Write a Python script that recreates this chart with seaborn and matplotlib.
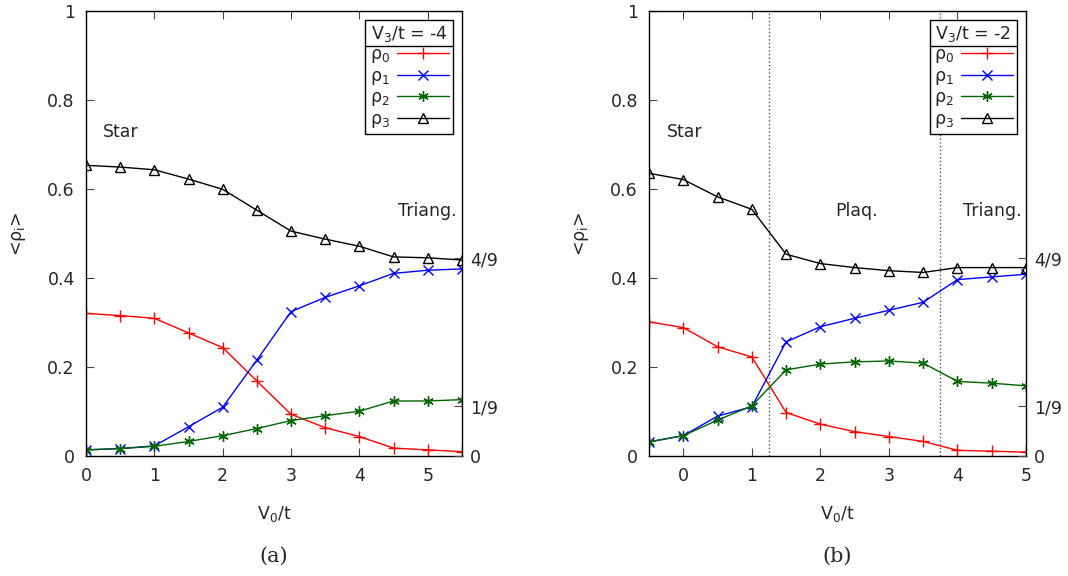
import numpy as np
import pandas as pd
import matplotlib
matplotlib.use('Agg')
import matplotlib.pyplot as plt
from matplotlib.lines import Line2D
import seaborn as sns

# ─── data ───────────────────────────────────────────────────────────────────
# (a) V3/t = -4
x_a = [0, 0.5, 1, 1.5, 2, 2.5, 3, 3.5, 4, 4.5, 5, 5.5]
rho0_a = [0.320, 0.315, 0.309, 0.276, 0.243, 0.168, 0.093, 0.063, 0.043, 0.017, 0.013, 0.009]
rho1_a = [0.013, 0.016, 0.022, 0.065, 0.109, 0.215, 0.324, 0.356, 0.382, 0.410, 0.417, 0.420]
rho2_a = [0.013, 0.016, 0.021, 0.032, 0.045, 0.061, 0.079, 0.090, 0.100, 0.123, 0.123, 0.126]
rho3_a = [0.653, 0.649, 0.643, 0.622, 0.599, 0.552, 0.505, 0.487, 0.471, 0.447, 0.445, 0.440]

# (b) V3/t = -2
x_b = [-0.5, 0, 0.5, 1, 1.5, 2, 2.5, 3, 3.5, 4, 4.5, 5]
rho0_b = [0.301, 0.288, 0.245, 0.222, 0.097, 0.071, 0.054, 0.043, 0.032, 0.012, 0.010, 0.008]
rho1_b = [0.031, 0.045, 0.089, 0.110, 0.256, 0.290, 0.309, 0.327, 0.345, 0.396, 0.402, 0.408]
rho2_b = [0.031, 0.045, 0.080, 0.112, 0.193, 0.206, 0.211, 0.213, 0.208, 0.167, 0.163, 0.157]
rho3_b = [0.635, 0.621, 0.582, 0.554, 0.453, 0.432, 0.423, 0.416, 0.412, 0.423, 0.423, 0.423]

phase_bounds_b = [1.25, 3.75]

series_names = ['ρ$_0$', 'ρ$_1$', 'ρ$_2$', 'ρ$_3$']
y2_ticks = [0, 1 / 9, 4 / 9]
y2_labels = ['0', '1/9', '4/9']

# ─── styles ─────────────────────────────────────────────────────────────────
COLORS = ['#ff0000', '#0000ff', '#006400', '#000000']
MARKERS = ['+', 'x', (6, 2, 0), '^']
MSIZE = [8, 7.5, 7.5, 7]

sns.set_style('ticks')
plt.rcParams['font.family'] = ['DejaVu Sans']
plt.rcParams['font.size'] = 12.5


def draw_panel(ax, x, series, v3, xlim, xticks, labels_txt, vlines=()):
    for name, ys, c, m, ms in zip(series_names, series, COLORS, MARKERS, MSIZE):
        df = pd.DataFrame({'V0': x, 'rho': ys})
        fc = 'none' if m == '^' else c
        sns.lineplot(data=df, x='V0', y='rho', ax=ax, color=c, marker=m,
                     markersize=ms, markeredgewidth=1.0, markeredgecolor=c,
                     markerfacecolor=fc, linewidth=1.0,
                     label=name, errorbar=None)

    for xv in vlines:
        ax.axvline(xv, color='#555555', linestyle=':', linewidth=1.0, zorder=0)

    ax.set_xlim(*xlim)
    ax.set_ylim(0, 1)
    ax.set_xticks(xticks)
    ax.set_xticklabels([str(t) for t in xticks])
    ax.set_yticks([0, 0.2, 0.4, 0.6, 0.8, 1.0])
    ax.set_yticklabels(['0', '0.2', '0.4', '0.6', '0.8', '1'])
    ax.tick_params(direction='in', top=True, right=True, length=6,
                   color='#444444', pad=8)
    ax.set_xlabel('V$_0$/t', labelpad=14)
    ax.set_ylabel('<ρ$_\\mathrm{i}$>', labelpad=14)
    for sp in ax.spines.values():
        sp.set_visible(True)
        sp.set_linewidth(1.0)
        sp.set_color('black')

    ax2 = ax.twinx()
    ax2.set_ylim(0, 1)
    ax2.set_yticks(y2_ticks)
    ax2.set_yticklabels(y2_labels)
    ax2.tick_params(direction='in', length=6, color='#444444', pad=6)
    for sp in ax2.spines.values():
        sp.set_visible(False)

    for txt, tx, ty in labels_txt:
        ax.text(tx, ty, txt, ha='left', va='center')

    leg = ax.legend(title=f'V$_3$/t = {v3}', loc='upper right',
                    markerfirst=False, fancybox=False, framealpha=1,
                    edgecolor='black', borderaxespad=0.5, handlelength=3.0,
                    labelspacing=0.08, borderpad=0.25, handletextpad=0.4)
    leg.get_frame().set_linewidth(1.0)
    leg.set_zorder(5)
    return leg


fig = plt.figure(figsize=(10.68, 5.76), dpi=100)
ax_a = fig.add_axes([0.0805, 0.2089, 0.352, 0.772])
ax_b = fig.add_axes([0.6077, 0.2089, 0.353, 0.772])

leg_a = draw_panel(ax_a, x_a, [rho0_a, rho1_a, rho2_a, rho3_a], -4,
                   (0, 5.5), [0, 1, 2, 3, 4, 5],
                   [('Star', 0.25, 0.728), ('Triang.', 4.56, 0.55)])
leg_b = draw_panel(ax_b, x_b, [rho0_b, rho1_b, rho2_b, rho3_b], -2,
                   (-0.5, 5), [0, 1, 2, 3, 4, 5],
                   [('Star', -0.24, 0.728), ('Plaq.', 2.22, 0.55),
                    ('Triang.', 4.08, 0.55)],
                   vlines=phase_bounds_b)

# panel captions in a Computer-Modern look
fig.text(0.2565, 0.035, '(a)', ha='center', va='center', fontsize=15,
         family='DejaVu Serif', math_fontfamily='cm')
fig.text(0.7842, 0.035, '(b)', ha='center', va='center', fontsize=15,
         family='DejaVu Serif', math_fontfamily='cm')

# line under legend title (gnuplot key with title box)
fig.canvas.draw()
renderer = fig.canvas.get_renderer()
inv = fig.transFigure.inverted()
for leg in (leg_a, leg_b):
    fb = leg.get_frame().get_window_extent(renderer)
    tb = leg.get_title().get_window_extent(renderer)
    y_sep = tb.y0 - 2
    (x0, y0) = inv.transform((fb.x0, y_sep))
    (x1, _) = inv.transform((fb.x1, y_sep))
    fig.add_artist(Line2D([x0, x1], [y0, y0], color='black', linewidth=1.0,
                          transform=fig.transFigure, zorder=10))

fig.savefig('out.png', dpi=100)
